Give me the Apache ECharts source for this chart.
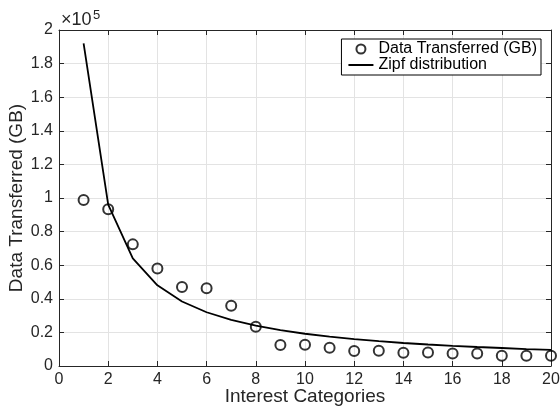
<!DOCTYPE html>
<html>
<head>
<meta charset="utf-8">
<script src="https://cdn.jsdelivr.net/npm/echarts@6/dist/echarts.min.js"></script>
<style>html,body{margin:0;padding:0;background:#fff;}#c{width:560px;height:410px;}</style>
</head>
<body>
<div id="c"></div>
<script>
const categories = [1,2,3,4,5,6,7,8,9,10,11,12,13,14,15,16,17,18,19,20];
const dataTransferred = [98800,93300,72400,58100,47000,46300,35900,23400,12500,12700,10900,8900,9100,7900,8000,7500,7500,6100,6100,6100];
const zipf = [192000,96000,64000,48000,38400,32000,27400,24000,21300,19200,17500,16000,14800,13700,12800,12000,11300,10700,10100,9600];
const xTicks = [0,2,4,6,8,10,12,14,16,18,20];
const yTickLabels = ['0','0.2','0.4','0.6','0.8','1','1.2','1.4','1.6','1.8','2'];

const FONT = '"Liberation Sans", Arial, Helvetica, sans-serif';
const AX = '#262626';
const chart = echarts.init(document.getElementById('c'), null, {renderer:'canvas'});
const axisCommon = {
  axisLine:{show:true,onZero:false,lineStyle:{color:AX,width:1}},
  axisTick:{show:true,inside:true,length:5,lineStyle:{color:AX}},
};
chart.setOption({
  animation:false,
  backgroundColor:'#fff',
  grid:{left:59,right:9,top:30,bottom:44,containLabel:false,outerBoundsMode:'none'},
  graphic:[
    {type:'text',left:61,top:11,style:{text:'×10',fontSize:18,fontFamily:FONT,fill:AX}},
    {type:'text',left:93,top:9,style:{text:'5',fontSize:13,fontFamily:FONT,fill:AX}}
  ],
  legend:{
    orient:'vertical',right:19,top:39,
    itemGap:0,itemWidth:25,itemHeight:9,
    padding:[2,4,2,6],
    borderColor:'#000',borderWidth:1,backgroundColor:'#fff',borderRadius:0,
    textStyle:{fontFamily:FONT,fontSize:16,color:'#000',lineHeight:14},
    data:[
      {name:'Data Transferred (GB)'},
      {name:'Zipf distribution',itemStyle:{opacity:0}}
    ]
  },
  xAxis:[
    Object.assign({type:'value',min:0,max:20,interval:2,position:'bottom',
      name:'Interest Categories',nameLocation:'middle',nameGap:21,nameMoveOverlap:false,
      nameTextStyle:{fontFamily:FONT,fontSize:19,color:AX},
      axisLabel:{fontFamily:FONT,fontSize:16,color:AX,margin:6,
        formatter:v=>xTicks.includes(v)?String(v):''},
      splitLine:{show:true,lineStyle:{color:'#e3e3e3',width:1}}},axisCommon),
    Object.assign({type:'value',min:0,max:20,interval:2,position:'top',
      axisLabel:{show:false},splitLine:{show:false}},axisCommon)
  ],
  yAxis:[
    Object.assign({type:'value',min:0,max:200000,interval:20000,position:'left',
      name:'Data Transferred (GB)',nameLocation:'middle',nameGap:33,nameMoveOverlap:false,
      nameTextStyle:{fontFamily:FONT,fontSize:19,color:AX},
      axisLabel:{fontFamily:FONT,fontSize:16,color:AX,margin:6,
        formatter:v=>yTickLabels[Math.round(v/20000)]},
      splitLine:{show:true,lineStyle:{color:'#e3e3e3',width:1}}},axisCommon),
    Object.assign({type:'value',min:0,max:200000,interval:20000,position:'right',
      axisLabel:{show:false},splitLine:{show:false}},axisCommon)
  ],
  series:[
    {name:'Data Transferred (GB)',type:'scatter',xAxisIndex:0,yAxisIndex:0,
      symbol:'circle',symbolSize:10,
      itemStyle:{color:'rgba(255,255,255,0)',borderColor:'#000',borderWidth:2},
      data:categories.map((c,i)=>[c,dataTransferred[i]]),z:3},
    {name:'Zipf distribution',type:'line',xAxisIndex:0,yAxisIndex:0,
      symbol:'none',showSymbol:false,
      lineStyle:{color:'#000',width:1.8},itemStyle:{color:'#000'},
      data:categories.map((c,i)=>[c,zipf[i]]),z:2}
  ]
});
</script>
</body>
</html>
